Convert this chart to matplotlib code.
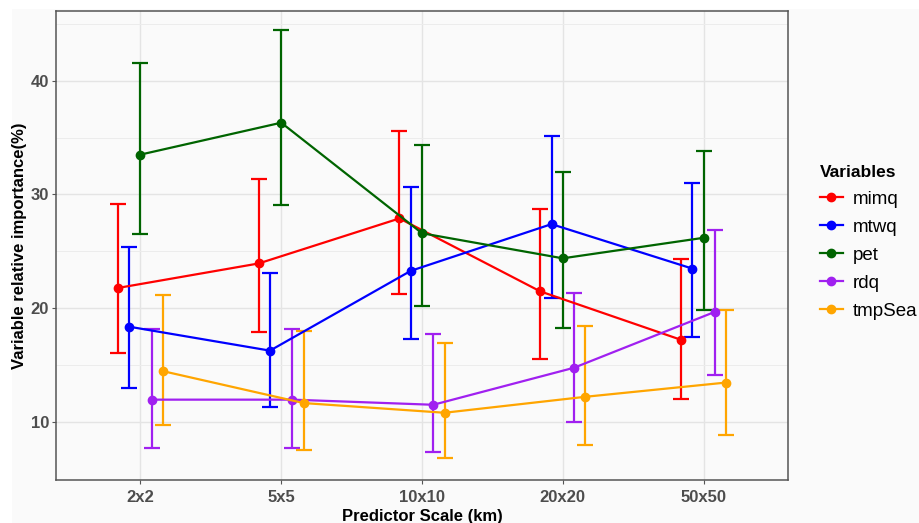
import matplotlib
matplotlib.use("Agg")
import matplotlib.pyplot as plt
from matplotlib.patches import Rectangle
import numpy as np

categories = ["2x2", "5x5", "10x10", "20x20", "50x50"]
variables = ["mimq", "mtwq", "pet", "rdq", "tmpSea"]
colors = ["#FF0000", "#0000FF", "#006400", "#A020F0", "#FFA500"]

mimq_mean = [21.8, 23.95, 27.9, 21.5, 17.25]
mimq_low = [16.1, 17.9, 21.3, 15.6, 12.1]
mimq_high = [29.15, 31.4, 35.6, 28.7, 24.3]

mtwq_mean = [18.4, 16.3, 23.3, 27.4, 23.5]
mtwq_low = [13.0, 11.35, 17.3, 20.9, 17.5]
mtwq_high = [25.4, 23.1, 30.7, 35.1, 31.0]

pet_mean = [33.5, 36.3, 26.6, 24.4, 26.2]
pet_low = [26.5, 29.1, 20.2, 18.3, 19.85]
pet_high = [41.5, 44.4, 34.3, 31.96, 33.8]

rdq_mean = [12.0, 12.0, 11.55, 14.8, 19.7]
rdq_low = [7.75, 7.75, 7.45, 10.0, 14.2]
rdq_high = [18.2, 18.2, 17.8, 21.4, 26.9]

tmpSea_mean = [14.5, 11.7, 10.85, 12.25, 13.5]
tmpSea_low = [9.8, 7.6, 6.85, 8.0, 8.9]
tmpSea_high = [21.2, 18.0, 17.0, 18.5, 19.9]

means = [mimq_mean, mtwq_mean, pet_mean, rdq_mean, tmpSea_mean]
lows = [mimq_low, mtwq_low, pet_low, rdq_low, tmpSea_low]
highs = [mimq_high, mtwq_high, pet_high, rdq_high, tmpSea_high]

plt.rcParams['font.family'] = ['Liberation Sans', 'DejaVu Sans']

bg = "#fafafa"
W, H = 919, 523
fig = plt.figure(figsize=(W/100, H/100), dpi=100, facecolor=bg)
# white margins at top and left of the screenshot
fig.patches.append(Rectangle((0, 1-9/H), 1, 9/H, transform=fig.transFigure,
                             facecolor='white', edgecolor='none', zorder=-1))
fig.patches.append(Rectangle((0, 0), 12/W, 1, transform=fig.transFigure,
                             facecolor='white', edgecolor='none', zorder=-1))

ax = fig.add_axes([56/W, 1-480/H, (788-56)/W, (480-11)/H])
ax.set_facecolor("#fafafa")

x = np.arange(1, len(categories)+1)
dodge = 0.4
n = len(variables)
offsets = (np.arange(n) - (n-1)/2) * dodge / n

for i, var in enumerate(variables):
    xs = x + offsets[i]
    m = np.array(means[i]); lo = np.array(lows[i]); hi = np.array(highs[i])
    ax.errorbar(xs, m, yerr=[m-lo, hi-m], fmt='none', ecolor=colors[i],
                elinewidth=1.6, capsize=5.5, capthick=1.6, zorder=3)
    ax.plot(xs, m, '-', color=colors[i], lw=1.6, marker='o', ms=6,
            label=var, zorder=4)

ax.set_xlim(0.4, 5.6)
ax.set_ylim(4.95, 46.1)
ax.set_xticks(x)
ax.set_xticklabels(categories)
ax.set_yticks([10, 20, 30, 40])
ax.set_yticks([15, 25, 35, 45], minor=True)
ax.grid(True, which='major', color='#e4e4e4', lw=1.0, zorder=0)
ax.grid(True, which='minor', axis='y', color='#ececec', lw=0.7, zorder=0)
ax.set_axisbelow(True)
for s in ax.spines.values():
    s.set_color('#555555')
    s.set_linewidth(1.1)
ax.tick_params(axis='both', which='major', length=3, color='#555555',
               labelsize=12, labelcolor='#4d4d4d', pad=2)
ax.tick_params(axis='x', which='major', pad=4.5)
ax.tick_params(axis='y', which='minor', length=0)
for lab in ax.get_xticklabels() + ax.get_yticklabels():
    lab.set_fontweight('bold')

ax.set_xlabel("Predictor Scale (km)", fontsize=12, fontweight='bold')
ax.xaxis.set_label_coords((422-56)/(788-56), -(524-480)/(480-11))
ax.xaxis.label.set_va('bottom')
ax.set_ylabel("Variable relative importance(%)", fontsize=12, fontweight='bold')
ax.yaxis.set_label_coords(-(56-27)/(788-56), 0.5)

leg = fig.legend(loc='upper left', bbox_to_anchor=(820/W, 1-165/H),
                 title="Variables", frameon=False, fontsize=13.5,
                 title_fontproperties={'weight': 'bold', 'size': 12.5},
                 handlelength=1.2, handletextpad=0.55, labelspacing=0.58,
                 borderaxespad=0, borderpad=0)
leg._legend_box.align = "left"

fig.savefig("out.png", dpi=100, facecolor=bg)
